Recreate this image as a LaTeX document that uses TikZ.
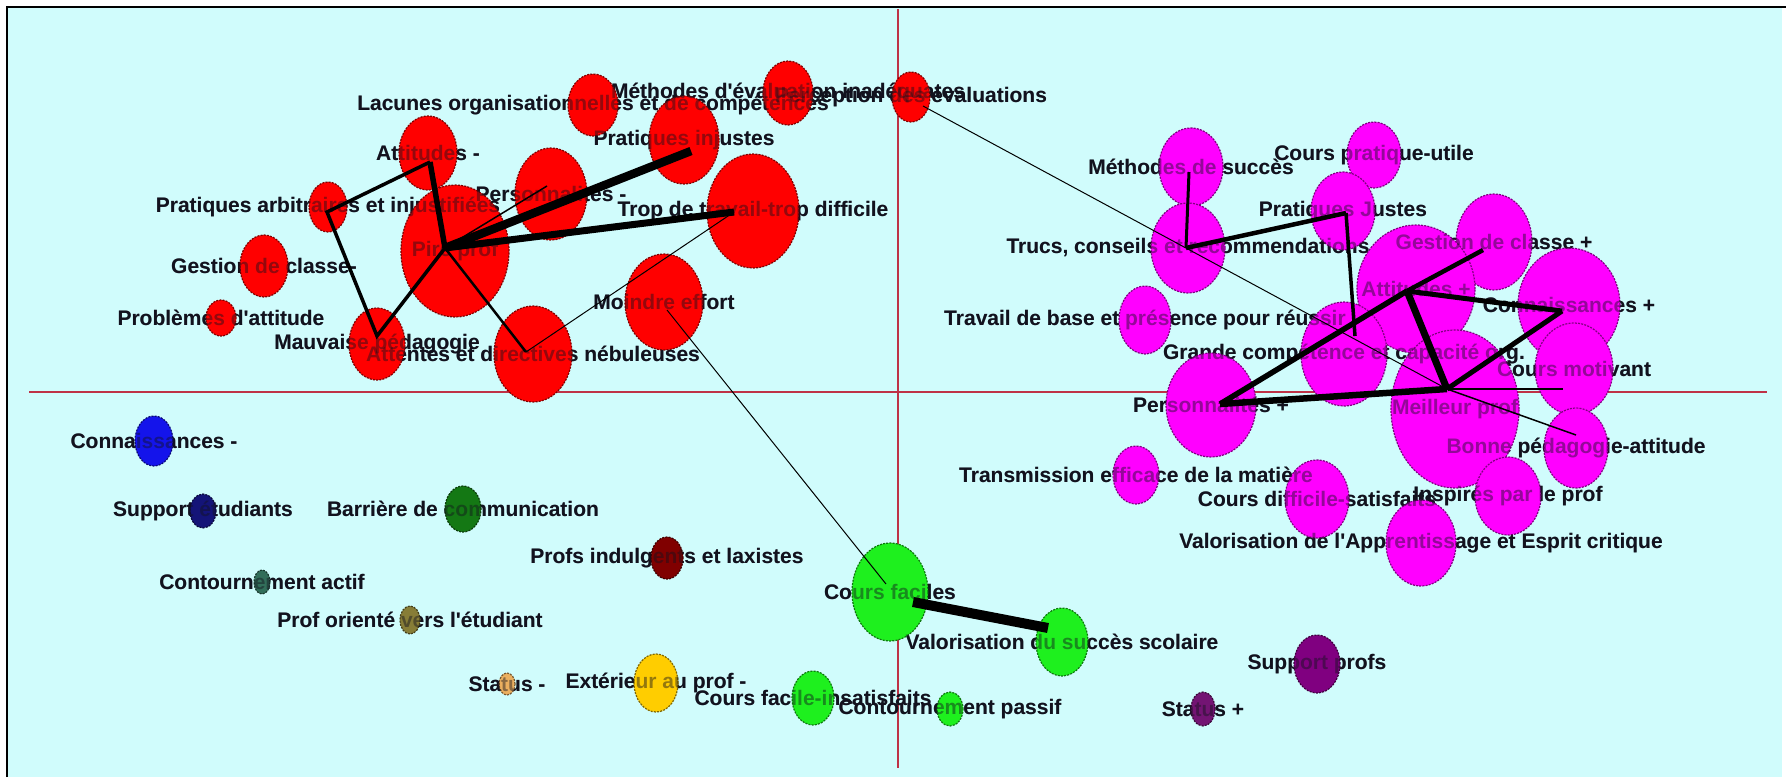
\documentclass[tikz,border=0pt]{standalone}
\usepackage{fontspec}
\setmainfont{Liberation Sans}
\font\lblf="Liberation Sans/B" at 21pt
\usetikzlibrary{shapes.geometric}
\definecolor{bg}{RGB}{208,252,252}
\definecolor{axisred}{RGB}{190,50,70}
\definecolor{cRed}{RGB}{255,0,0}
\definecolor{cMag}{RGB}{255,0,255}
\definecolor{cGreen}{RGB}{30,240,30}
\definecolor{cBlue}{RGB}{20,20,235}
\definecolor{cNavy}{RGB}{20,20,120}
\definecolor{cDGreen}{RGB}{20,120,20}
\definecolor{cTeal}{RGB}{50,110,90}
\definecolor{cOlive}{RGB}{135,125,55}
\definecolor{cTan}{RGB}{235,175,95}
\definecolor{cGold}{RGB}{255,205,0}
\definecolor{cDRed}{RGB}{128,0,0}
\definecolor{cPurple}{RGB}{128,0,128}
\definecolor{cPurpleB}{RGB}{115,20,115}
\definecolor{txt}{RGB}{18,18,30}
\def\items{%
methevalin/788/93/25/32/cRed/{Méthodes d'évaluation inadéquates},%
perception/911/97/19/25/cRed/{Perception des évaluations},%
lacunes/593/105/25/31/cRed/{Lacunes organisationnelles et de compétences},%
pratinj/684/140/35/44/cRed/{Pratiques injustes},%
attm/428/153/29/37/cRed/{Attitudes -},%
courspu/1374/155/27/33/cMag/{Cours pratique-utile},%
methsucc/1191/167/32/39/cMag/{Méthodes de succès},%
persm/551/194/36/46/cRed/{Personnalités -},%
pratarb/328/207/19/25/cRed/{Pratiques arbitraires et injustifiées},%
trop/753/211/46/57/cRed/{Trop de travail-trop difficile},%
pratjustes/1343/211/32/39/cMag/{Pratiques Justes},%
gestplus/1494/242/38/48/cMag/{Gestion de classe +},%
trucs/1188/248/37/45/cMag/{Trucs, conseils et recommendations},%
pireprof/455/251/54/66/cRed/{Pire prof},%
gestm/264/266/24/31/cRed/{Gestion de classe-},%
attplus/1416/289/59/64/cMag/{Attitudes +},%
moindre/664/302/39/48/cRed/{Moindre effort},%
connplus/1569/305/51/57/cMag/{Connaissances +},%
problatt/221/318/15/18/cRed/{Problèmes d'attitude},%
travbase/1145/320/26/34/cMag/{Travail de base et présence pour réussir},%
mauvped/377/344/28/36/cRed/{Mauvaise pédagogie},%
attentes/533/354/39/48/cRed/{Attentes et directives nébuleuses},%
grande/1344/354/43/52/cMag/{Grande compétence et capacité org.},%
coursmot/1574/369/39/46/cMag/{Cours motivant},%
persplus/1211/405/45/52/cMag/{Personnalités +},%
meilleur/1455/409/64/79/cMag/{Meilleur prof},%
connm/154/441/19/25/cBlue/{Connaissances -},%
bonne/1576/448/32/40/cMag/{Bonne pédagogie-attitude},%
transm/1136/475/23/29/cMag/{Transmission efficace de la matière},%
inspires/1508/496/33/39/cMag/{Inspirés par le prof},%
coursdiff/1317/499/32/39/cMag/{Cours difficile-satisfaits},%
barriere/463/509/18/23/cDGreen/{Barrière de communication},%
suppetud/203/511/13/17/cNavy/{Support étudiants},%
valappr/1421/543/35/43/cMag/{Valorisation de l'Apprentissage et Esprit critique},%
profsind/667/558/16/21/cDRed/{Profs indulgents et laxistes},%
contact/262/582/8/12/cTeal/{Contournement actif},%
coursfac/890/592/38/49/cGreen/{Cours faciles},%
proforient/410/620/10/14/cOlive/{Prof orienté vers l'étudiant},%
valsucc/1062/642/26/34/cGreen/{Valorisation du succès scolaire},%
supprofs/1317/664/23/29/cPurple/{Support profs},%
exterieur/656/683/22/29/cGold/{Extérieur au prof -},%
statm/507/684/8/11/cTan/{Status -},%
coursfi/813/698/21/27/cGreen/{Cours facile-insatisfaits},%
contpass/950/709/13/17/cGreen/{Contournement passif},%
statplus/1203/709/12/17/cPurpleB/{Status +}%
}
\begin{document}
\begin{tikzpicture}[x=1pt,y=-1pt,
  bubble/.style={ellipse, inner sep=0pt, draw=#1!50!black, fill=#1,
    line width=1.2pt, dash pattern=on 2pt off 1.2pt},
  lbl/.style={inner sep=0pt, text=txt, font=\lblf},
  lblfade/.style={lbl, text opacity=0.45},
  lk/.style={draw=black},
  axis/.style={draw=axisred, line width=1.5pt}]
\useasboundingbox (0,0) rectangle (1786,777);
\fill[bg] (8,8) rectangle (1782,777);
\draw[line width=2.5pt] (7,777) -- (7,7) -- (1786,7);
% axes
\draw[axis] (29,392) -- (1767,392);
\draw[axis] (898,9) -- (898,768);
% labels (under the bubbles)
\foreach \n/\x/\y/\rx/\ry/\c/\t in \items {
  \node[lbl] (\n-l) at (\x,\y) {\t};
}
% bubbles
\foreach \n/\x/\y/\rx/\ry/\c/\t in \items {
  \node[bubble=\c, minimum width={2*\rx*1pt}, minimum height={2*\ry*1pt}] (\n) at (\x,\y) {};
}
% labels seen through the bubbles
\foreach \n/\x/\y/\rx/\ry/\c/\t in \items {
  \node[lblfade] (\n-m) at (\x,\y) {\t};
}
% hub points of the connectors
\coordinate (pireH) at (445,248);
\coordinate (attmH) at (430,162);
\coordinate (parbH) at (327,212);
\coordinate (mauvH) at (377,336);
\coordinate (persmH) at (547,186);
\coordinate (prinjH) at (691,151);
\coordinate (tropH) at (734,212);
\coordinate (attenH) at (526,352);
\coordinate (moindH) at (667,310);
\coordinate (percH) at (923,106);
\coordinate (cfacA) at (886,584);
\coordinate (cfacB) at (913,602);
\coordinate (vsuccH) at (1048,628);
\coordinate (methsH) at (1189,172);
\coordinate (trucsH) at (1186,248);
\coordinate (prjH) at (1346,213);
\coordinate (grandeH) at (1355,336);
\coordinate (gestpH) at (1483,250);
\coordinate (attpH) at (1407,291);
\coordinate (connpH) at (1562,311);
\coordinate (meilH) at (1447,389);
\coordinate (perspH) at (1220,404);
\coordinate (cmotH) at (1563,389);
\coordinate (bonneH) at (1576,435);
% red cluster
\draw[lk, line width=3.5pt] (attmH) -- (parbH) -- (mauvH) -- (pireH);
\draw[lk, line width=5.5pt] (attmH) -- (pireH);
\draw[lk, line width=1.5pt] (pireH) -- (persmH);
\draw[lk, line width=2.5pt] (pireH) -- (attenH);
\draw[lk, line width=1pt] (attenH) -- (tropH);
\draw[lk, line width=8.5pt] (pireH) -- (prinjH);
\draw[lk, line width=7pt] (pireH) -- (tropH);
\draw[lk, line width=1pt] (moindH) -- (cfacA);
\draw[lk, line width=1pt] (percH) -- (meilH);
% green
\draw[lk, line width=10pt] (cfacB) -- (vsuccH);
% magenta cluster
\draw[lk, line width=3pt] (methsH) -- (trucsH);
\draw[lk, line width=4.5pt] (trucsH) -- (prjH);
\draw[lk, line width=3.5pt] (prjH) -- (grandeH);
\draw[lk, line width=4.5pt] (gestpH) -- (attpH);
\draw[lk, line width=5pt] (attpH) -- (connpH);
\draw[lk, line width=7pt] (attpH) -- (meilH);
\draw[lk, line width=5.5pt] (attpH) -- (perspH);
\draw[lk, line width=5pt] (connpH) -- (meilH);
\draw[lk, line width=6.5pt] (perspH) -- (meilH);
\draw[lk, line width=2.5pt] (meilH) -- (cmotH);
\draw[lk, line width=1.5pt] (meilH) -- (bonneH);
\end{tikzpicture}
\end{document}
